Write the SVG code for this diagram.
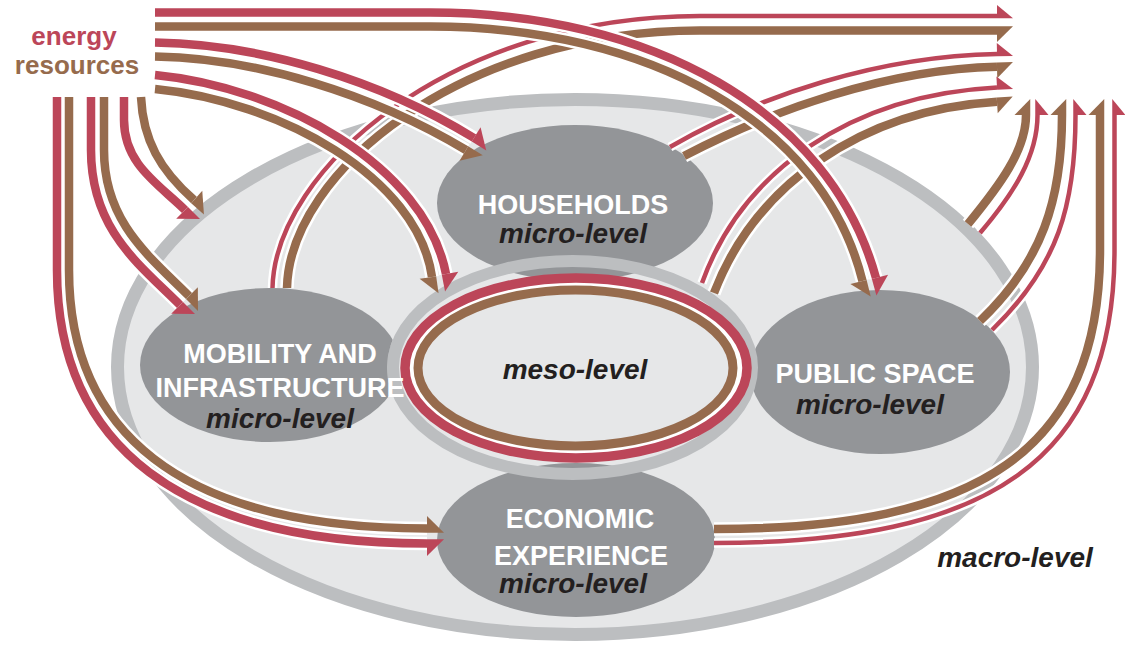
<svg xmlns="http://www.w3.org/2000/svg" width="1125" height="650" viewBox="0 0 1125 650">
<defs>
<style>
.red{fill:none;stroke:#bc4659;stroke-width:8.5}
.brn{fill:none;stroke:#966b4d;stroke-width:8.5}
.redt{fill:none;stroke:#bc4659;stroke-width:4.5}
.halo{fill:none;stroke:#ffffff;stroke-width:13.5}
.halot{fill:none;stroke:#ffffff;stroke-width:9.5}
.node{fill:#939598}
.title{font-family:"Liberation Sans",Arial,sans-serif;font-weight:bold;font-size:27px;fill:#ffffff;text-anchor:middle}
.lvl{font-family:"Liberation Sans",Arial,sans-serif;font-weight:bold;font-style:italic;font-size:28px;fill:#231f20;text-anchor:middle}
.src{font-family:"Liberation Sans",Arial,sans-serif;font-weight:bold;font-size:26px;text-anchor:middle}
</style>
<marker id="iRL" markerUnits="userSpaceOnUse" orient="auto" overflow="visible" markerWidth="1" markerHeight="1"><path d="M0,-12.5V4.25H17Z" fill="#bc4659"/></marker>
<marker id="iRR" markerUnits="userSpaceOnUse" orient="auto" overflow="visible" markerWidth="1" markerHeight="1"><path d="M0,12.5V-4.25H17Z" fill="#bc4659"/></marker>
<marker id="iBL" markerUnits="userSpaceOnUse" orient="auto" overflow="visible" markerWidth="1" markerHeight="1"><path d="M0,-12.5V4.25H17Z" fill="#966b4d"/></marker>
<marker id="iBR" markerUnits="userSpaceOnUse" orient="auto" overflow="visible" markerWidth="1" markerHeight="1"><path d="M0,12.5V-4.25H17Z" fill="#966b4d"/></marker>
<marker id="oRL" markerUnits="userSpaceOnUse" orient="auto" overflow="visible" markerWidth="1" markerHeight="1"><path d="M0,-11V2.25H16Z" fill="#bc4659"/></marker>
<marker id="oRR" markerUnits="userSpaceOnUse" orient="auto" overflow="visible" markerWidth="1" markerHeight="1"><path d="M0,11V-2.25H16Z" fill="#bc4659"/></marker>
<marker id="oBL" markerUnits="userSpaceOnUse" orient="auto" overflow="visible" markerWidth="1" markerHeight="1"><path d="M0,-11.5V4.25H16Z" fill="#966b4d"/></marker>
<marker id="oBR" markerUnits="userSpaceOnUse" orient="auto" overflow="visible" markerWidth="1" markerHeight="1"><path d="M0,11.5V-4.25H16Z" fill="#966b4d"/></marker>
<clipPath id="outsideMeso"><path clip-rule="evenodd" d="M0,0H1125V650H0Z M387,367.5 a185.5,112.5 0 1,0 371,0 a185.5,112.5 0 1,0 -371,0Z"/></clipPath>
</defs>

<rect width="1125" height="650" fill="#ffffff"/>

<g id="macro">
<ellipse cx="575" cy="367" rx="457.5" ry="267.5" fill="#e6e7e8" stroke="#bcbec0" stroke-width="13"/>
<text class="lvl" x="1015" y="567">macro-level</text>
</g>

<g id="households">
<ellipse class="node" cx="575" cy="203" rx="138" ry="78"/>
<text class="title" x="573" y="214">HOUSEHOLDS</text>
<text class="lvl" x="573" y="243">micro-level</text>
</g>

<g id="public-space">
<ellipse class="node" cx="880" cy="372" rx="130" ry="82"/>
<text class="title" x="875" y="383">PUBLIC SPACE</text>
<text class="lvl" x="870" y="414">micro-level</text>
</g>

<g id="economic-experience">
<ellipse class="node" cx="576" cy="540" rx="139" ry="77"/>
<text class="title" x="580" y="528">ECONOMIC</text>
<text class="title" x="581" y="565">EXPERIENCE</text>
<text class="lvl" x="573" y="593">micro-level</text>
</g>

<g id="meso">
<ellipse cx="572.5" cy="367.5" rx="179.5" ry="106.5" fill="none" stroke="#bcbec0" stroke-width="12"/>
<ellipse cx="576" cy="368" rx="171" ry="90" fill="#ffffff" stroke="#bc4659" stroke-width="9.5"/>
<ellipse cx="575.5" cy="368" rx="157.5" ry="78" fill="#e6e7e8" stroke="#966b4d" stroke-width="9"/>
<text class="lvl" x="575" y="379">meso-level</text>
</g>

<g id="mobility-infrastructure">
<ellipse class="node" cx="270" cy="365" rx="130" ry="77" clip-path="url(#outsideMeso)"/>
<text class="title" x="280" y="363">MOBILITY AND</text>
<text class="title" x="280" y="397">INFRASTRUCTURE</text>
<text class="lvl" x="280" y="428">micro-level</text>
</g>

<g id="energy-resources">
<text class="src" x="74" y="45" fill="#bc4659">energy</text>
<text class="src" x="77" y="74" fill="#966b4d">resources</text>
</g>

<g id="connectors">
<g id="out-mobility">
<path class="halot" d="M272.5,288 C275,170 450,16 700,16 H997"/>
<path class="halo" d="M287,288 C289.5,172 462,30.5 700,30.5 H997"/>
<path class="redt" d="M272.5,288 C275,170 450,16 700,16 H997" marker-end="url(#oRL)"/>
<path class="brn" d="M287,288 C289.5,172 462,30.5 700,30.5 H997" marker-end="url(#oBR)"/>
</g>
<g id="out-households">
<path class="halot" d="M670,147 C760,95 880,56 997,54"/>
<path class="halo" d="M684,156 C772,110 888,69 997,66.7"/>
<path class="redt" d="M670,147 C760,95 880,56 997,54" marker-end="url(#oRL)"/>
<path class="brn" d="M684,156 C772,110 888,69 997,66.7" marker-end="url(#oBR)"/>
</g>
<g id="out-meso">
<path class="halot" d="M702,283 C742,172 850,95 997,87.5"/>
<path class="halo" d="M714,293 C755,186 860,110 997,101.7"/>
<path class="redt" d="M702,283 C742,172 850,95 997,87.5" marker-end="url(#oRL)"/>
<path class="brn" d="M714,293 C755,186 860,110 997,101.7" marker-end="url(#oBR)"/>
</g>
<g id="out-macro">
<path class="halo" d="M968,224 C1000,185 1026,150 1026,115"/>
<path class="halot" d="M980,233 C1014,193 1037.5,156 1037.5,115"/>
<path class="brn" d="M968,224 C1000,185 1026,150 1026,115" marker-end="url(#oBL)"/>
<path class="redt" d="M980,233 C1014,193 1037.5,156 1037.5,115" marker-end="url(#oRR)"/>
</g>
<g id="out-public">
<path class="halo" d="M980,321 C1042,262 1062,200 1062,115"/>
<path class="halot" d="M992,330 C1058,266 1075.5,205 1075.5,115"/>
<path class="brn" d="M980,321 C1042,262 1062,200 1062,115" marker-end="url(#oBL)"/>
<path class="redt" d="M992,330 C1058,266 1075.5,205 1075.5,115" marker-end="url(#oRR)"/>
</g>
<g id="out-economic">
<path class="halo" d="M714,529 C980,529 1100,450 1100,250 V115"/>
<path class="halot" d="M714,543 C990,543 1114.5,460 1114.5,250 V115"/>
<path class="brn" d="M714,529 C980,529 1100,450 1100,250 V115" marker-end="url(#oBL)"/>
<path class="redt" d="M714,543 C990,543 1114.5,460 1114.5,250 V115" marker-end="url(#oRR)"/>
</g>

<g id="in-economic">
<path class="halo" d="M57,97 V270 C57,445 180,543.5 427,543.5"/>
<path class="halo" d="M69,97 V270 C69,428 175,528.5 427,528.5"/>
<path class="red" d="M57,97 V270 C57,445 180,543.5 427,543.5" marker-end="url(#iRR)"/>
<path class="brn" d="M69,97 V270 C69,428 175,528.5 427,528.5" marker-end="url(#iBL)"/>
</g>
<g id="in-mobility">
<path class="halo" d="M91,97 V150 C91,230 140,265 180,305"/>
<path class="halo" d="M104,97 V150 C104,222 149,256 189,296"/>
<path class="red" d="M91,97 V150 C91,230 140,265 180,305" marker-end="url(#iRR)"/>
<path class="brn" d="M104,97 V150 C104,222 149,256 189,296" marker-end="url(#iBL)"/>
</g>
<g id="in-macro">
<path class="halo" d="M124,97 V120 C124,165 160,185 185,210"/>
<path class="halo" d="M141,97 C143,140 160,170 194,200"/>
<path class="red" d="M124,97 V120 C124,165 160,185 185,210" marker-end="url(#iRR)"/>
<path class="brn" d="M141,97 C143,140 160,170 194,200" marker-end="url(#iBL)"/>
</g>
<g id="in-meso">
<path class="halo" d="M155,75 C280,87 425,165 446,274"/>
<path class="halo" d="M155,89 C279,101 418,177 432,277"/>
<path class="red" d="M155,75 C280,87 425,165 446,274" marker-end="url(#iRL)"/>
<path class="brn" d="M155,89 C279,101 418,177 432,277" marker-end="url(#iBR)"/>
</g>
<g id="in-households">
<path class="halo" d="M155,42.5 C260,44 380,80 474,138"/>
<path class="halo" d="M155,56.5 C256,58 373,94 466,150"/>
<path class="red" d="M155,42.5 C260,44 380,80 474,138" marker-end="url(#iRL)"/>
<path class="brn" d="M155,56.5 C256,58 373,94 466,150" marker-end="url(#iBR)"/>
</g>
<g id="in-public">
<path class="halo" d="M155,12.5 H430 C650,12.5 830,110 876,278"/>
<path class="halo" d="M155,26.5 H430 C648,26.5 823,122 862.5,281"/>
<path class="red" d="M155,12.5 H430 C650,12.5 830,110 876,278" marker-end="url(#iRL)"/>
<path class="brn" d="M155,26.5 H430 C648,26.5 823,122 862.5,281" marker-end="url(#iBR)"/>
</g>
</g>
</svg>
